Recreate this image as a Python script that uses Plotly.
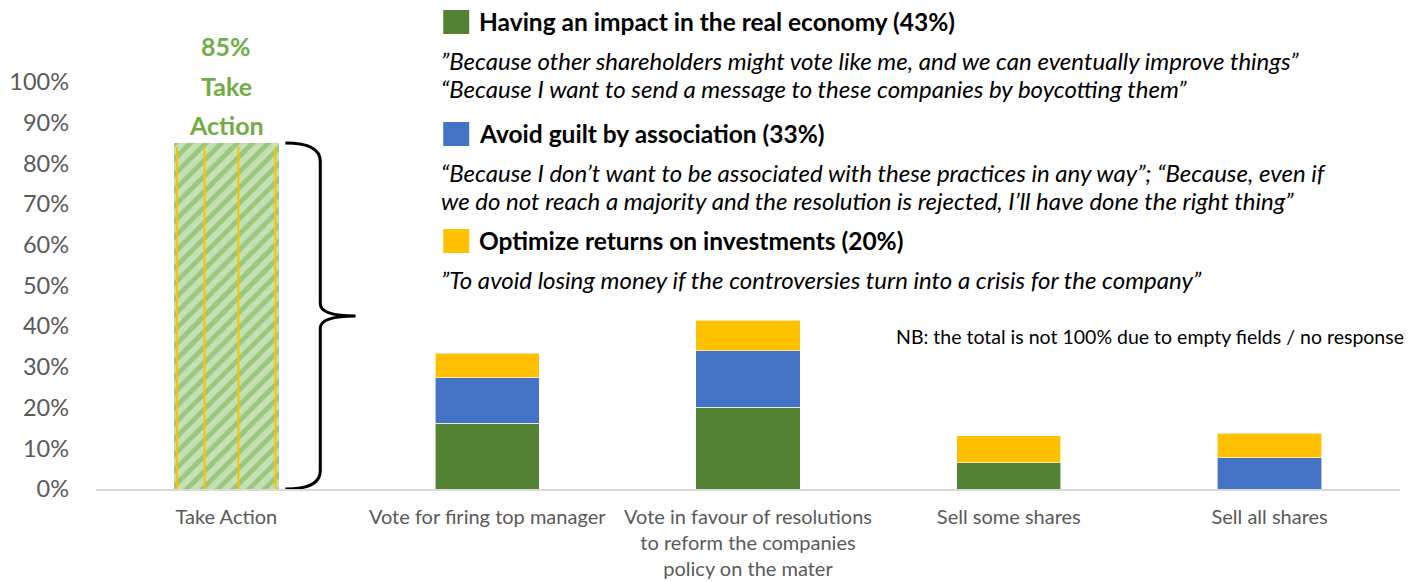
import plotly.graph_objects as go

categories = ["Take Action", "Vote for firing top manager",
              "Vote in favour of resolutions<br>to reform the companies<br>policy on the mater",
              "Sell some shares", "Sell all shares"]
take_action = [0.85, None, None, None, None]
impact = [None, 0.161, 0.201, 0.065, 0.0]
guilt = [None, 0.112, 0.139, 0.0, 0.077]
returns = [None, 0.060, 0.075, 0.066, 0.060]

legend_items = [
    ("#548235", "Having an impact in the real economy (43%)",
     ["\u201dBecause other shareholders might vote like me, and we can eventually improve things\u201d",
      "\u201cBecause I want to send a message to these companies by boycotting them\u201d"]),
    ("#4472c4", "Avoid guilt by association (33%)",
     ["\u201cBecause I don\u2019t want to be associated with these practices in any way\u201d; \u201cBecause, even if",
      "we do not reach a majority and the resolution is rejected, I\u2019ll have done the right thing\u201d"]),
    ("#ffc000", "Optimize returns on investments (20%)",
     ["\u201dTo avoid losing money if the controversies turn into a crisis for the company\u201d"]),
]

FONT = "Lato"
OFF = 8  # page body margin
W, H = 1426 - OFF, 582 - OFF
ML, MT = 95.5 - OFF, 82 - OFF
PW, PH = 1305, 407
MR, MB = W - ML - PW, H - MT - PH

def px(x):
    return (x - OFF - ML) / PW

def py(y):
    return (MT + PH - (y - OFF)) / PH

xs = list(range(len(categories)))
fig = go.Figure()
fig.add_trace(go.Bar(x=xs, y=take_action, width=0.4, name="Take Action",
                     marker=dict(color="#c5e0b4", line=dict(width=0),
                                 pattern=dict(shape="/", fgcolor="#70ad47", bgcolor="#c5e0b4",
                                              size=11, solidity=0.45))))
for name, vals, col in [("Impact", impact, "#548235"), ("Guilt", guilt, "#4472c4"),
                        ("Returns", returns, "#ffc000")]:
    fig.add_trace(go.Bar(x=xs, y=vals, width=0.4, name=name,
                         marker=dict(color=col, line=dict(color="rgba(255,255,255,0.6)", width=1))))

shapes = []
# yellow vertical lines over the Take Action bar
for off in [-0.19, -0.084, 0.046, 0.188]:
    shapes.append(dict(type="line", xref="x", yref="y", x0=off, x1=off, y0=0,
                       y1=take_action[0] - 0.01, line=dict(color="#ffc000", width=2)))
# curly brace
top = take_action[0]
mid = top / 2
x0, xv, xt = 0.226, 0.36, 0.495
path = (f"M {x0},{top} Q {xv},{top} {xv},{top-0.045} L {xv},{mid+0.03} "
        f"Q {xv},{mid} {xt},{mid} Q {xv},{mid} {xv},{mid-0.03} L {xv},0.045 "
        f"Q {xv},0 {x0},0")
shapes.append(dict(type="path", xref="x", yref="y", path=path,
                   line=dict(color="black", width=3)))

annotations = []
for txt, shift in [("Action", 18), ("Take", 57), ("85%", 97)]:
    annotations.append(dict(x=0, y=top, xref="x", yref="y", yanchor="middle", showarrow=False,
                            text=f"<b>{txt}</b>", yshift=shift,
                            font=dict(family=FONT, size=25, color="#70ad47")))

heading_y = [22, 134, 241]
for (col, head, quotes), hy in zip(legend_items, heading_y):
    shapes.append(dict(type="rect", xref="paper", yref="paper",
                       x0=px(443), x1=px(469), y0=py(hy + 12), y1=py(hy - 12),
                       fillcolor=col, line=dict(width=0)))
    annotations.append(dict(x=px(477), y=py(hy), xref="paper", yref="paper", xanchor="left",
                            yanchor="middle", showarrow=False, text=f"<b>{head}</b>",
                            font=dict(family=FONT, size=24.5, color="black")))
    for i, q in enumerate(quotes):
        annotations.append(dict(x=px(439), y=py(hy + 38 + 28 * i), xref="paper", yref="paper",
                                xanchor="left", yanchor="middle", showarrow=False,
                                text=f"<i>{q}</i>",
                                font=dict(family=FONT, size=24, color="black")))

annotations.append(dict(x=px(1407), y=py(336), xref="paper", yref="paper", xanchor="right",
                        yanchor="middle", showarrow=False,
                        text="NB: the total is not 100% due to empty fields / no response",
                        font=dict(family=FONT, size=19.5, color="black")))

fig.update_layout(
    width=W, height=H, barmode="stack", showlegend=False,
    margin=dict(l=ML, r=MR, t=MT, b=MB),
    plot_bgcolor="white", paper_bgcolor="white",
    shapes=shapes, annotations=annotations,
    xaxis=dict(range=[-0.5, 4.5], tickvals=xs, ticktext=categories, showgrid=False,
               showline=True, linecolor="#d9d9d9", linewidth=2, zeroline=False,
               tickfont=dict(family=FONT, size=20, color="#595959"), ticks="",
               ticklabelstandoff=9, automargin=False),
    yaxis=dict(range=[0, 1.0], tickformat=".0%", dtick=0.1, showgrid=False, zeroline=False,
               showline=False, tickfont=dict(family=FONT, size=23.5, color="#595959"),
               ticklabelstandoff=26, automargin=False),
)
fig.write_html("out.html")
